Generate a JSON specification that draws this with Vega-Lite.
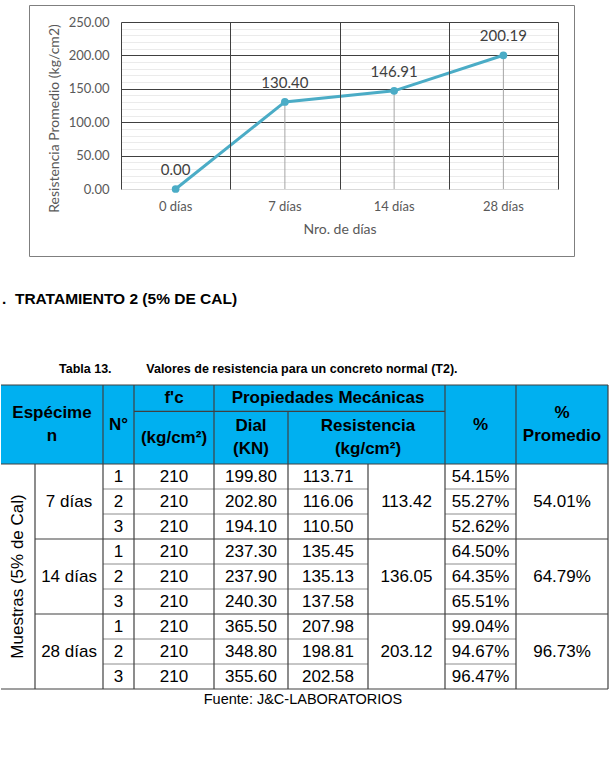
{
  "$schema": "https://vega.github.io/schema/vega-lite/v6.json",
  "background": "white",
  "padding": {"left": 0, "top": 4, "right": 0, "bottom": 0},
  "spacing": 15,
  "config": {"view": {"stroke": null}},
  "datasets": {
    "serie": [
      {"dia": "0 días", "res": 0.00},
      {"dia": "7 días", "res": 130.40},
      {"dia": "14 días", "res": 146.91},
      {"dia": "28 días", "res": 200.19}
    ],
    "fondo": [{"c0": 0, "c1": 9, "r0": 2, "r1": 5}],
    "cab": [
      {"t": "N°", "c0": 2.5, "r0": 3.5},
      {"t": "f'c", "c0": 3.5, "r0": 2.5},
      {"t": "(kg/cm²)", "c0": 3.5, "r0": 4},
      {"t": "Propiedades Mecánicas", "c0": 5.5, "r0": 2.5},
      {"t": "%", "c0": 7.5, "r0": 3.5}
    ],
    "cab2": [
      {"t": "Espécime\nn", "c0": 1.25, "r0": 3.5},
      {"t": "Dial\n(KN)", "c0": 4.5, "r0": 4},
      {"t": "Resistencia\n(kg/cm²)", "c0": 6, "r0": 4},
      {"t": "%\nPromedio", "c0": 8.5, "r0": 3.5}
    ],
    "cuerpo": [
      {"t": "7 días", "c0": 1.5, "r0": 6.5},
      {"t": "14 días", "c0": 1.5, "r0": 9.5},
      {"t": "28 días", "c0": 1.5, "r0": 12.5},
      {"t": "1", "c0": 2.5, "r0": 5.5},
      {"t": "2", "c0": 2.5, "r0": 6.5},
      {"t": "3", "c0": 2.5, "r0": 7.5},
      {"t": "1", "c0": 2.5, "r0": 8.5},
      {"t": "2", "c0": 2.5, "r0": 9.5},
      {"t": "3", "c0": 2.5, "r0": 10.5},
      {"t": "1", "c0": 2.5, "r0": 11.5},
      {"t": "2", "c0": 2.5, "r0": 12.5},
      {"t": "3", "c0": 2.5, "r0": 13.5},
      {"t": "210", "c0": 3.5, "r0": 5.5},
      {"t": "210", "c0": 3.5, "r0": 6.5},
      {"t": "210", "c0": 3.5, "r0": 7.5},
      {"t": "210", "c0": 3.5, "r0": 8.5},
      {"t": "210", "c0": 3.5, "r0": 9.5},
      {"t": "210", "c0": 3.5, "r0": 10.5},
      {"t": "210", "c0": 3.5, "r0": 11.5},
      {"t": "210", "c0": 3.5, "r0": 12.5},
      {"t": "210", "c0": 3.5, "r0": 13.5},
      {"t": "199.80", "c0": 4.5, "r0": 5.5},
      {"t": "202.80", "c0": 4.5, "r0": 6.5},
      {"t": "194.10", "c0": 4.5, "r0": 7.5},
      {"t": "237.30", "c0": 4.5, "r0": 8.5},
      {"t": "237.90", "c0": 4.5, "r0": 9.5},
      {"t": "240.30", "c0": 4.5, "r0": 10.5},
      {"t": "365.50", "c0": 4.5, "r0": 11.5},
      {"t": "348.80", "c0": 4.5, "r0": 12.5},
      {"t": "355.60", "c0": 4.5, "r0": 13.5},
      {"t": "113.71", "c0": 5.5, "r0": 5.5},
      {"t": "116.06", "c0": 5.5, "r0": 6.5},
      {"t": "110.50", "c0": 5.5, "r0": 7.5},
      {"t": "135.45", "c0": 5.5, "r0": 8.5},
      {"t": "135.13", "c0": 5.5, "r0": 9.5},
      {"t": "137.58", "c0": 5.5, "r0": 10.5},
      {"t": "207.98", "c0": 5.5, "r0": 11.5},
      {"t": "198.81", "c0": 5.5, "r0": 12.5},
      {"t": "202.58", "c0": 5.5, "r0": 13.5},
      {"t": "113.42", "c0": 6.5, "r0": 6.5},
      {"t": "136.05", "c0": 6.5, "r0": 9.5},
      {"t": "203.12", "c0": 6.5, "r0": 12.5},
      {"t": "54.15%", "c0": 7.5, "r0": 5.5},
      {"t": "55.27%", "c0": 7.5, "r0": 6.5},
      {"t": "52.62%", "c0": 7.5, "r0": 7.5},
      {"t": "64.50%", "c0": 7.5, "r0": 8.5},
      {"t": "64.35%", "c0": 7.5, "r0": 9.5},
      {"t": "65.51%", "c0": 7.5, "r0": 10.5},
      {"t": "99.04%", "c0": 7.5, "r0": 11.5},
      {"t": "94.67%", "c0": 7.5, "r0": 12.5},
      {"t": "96.47%", "c0": 7.5, "r0": 13.5},
      {"t": "54.01%", "c0": 8.5, "r0": 6.5},
      {"t": "64.79%", "c0": 8.5, "r0": 9.5},
      {"t": "96.73%", "c0": 8.5, "r0": 12.5}
    ],
    "muestras": [{"t": "Muestras (5% de Cal)", "c0": 0.5, "r0": 9.5}],
    "lineasOscuras": [
      {"c0": 0, "c1": 9, "r0": 2, "r1": 2},
      {"c0": 3, "c1": 7, "r0": 3, "r1": 3},
      {"c0": 0, "c1": 9, "r0": 5, "r1": 5},
      {"c0": 2, "c1": 2, "r0": 2, "r1": 5},
      {"c0": 3, "c1": 3, "r0": 2, "r1": 5},
      {"c0": 4, "c1": 4, "r0": 2, "r1": 5},
      {"c0": 5, "c1": 5, "r0": 3, "r1": 5},
      {"c0": 7, "c1": 7, "r0": 2, "r1": 5},
      {"c0": 8, "c1": 8, "r0": 2, "r1": 5},
      {"c0": 9, "c1": 9, "r0": 2, "r1": 5},
      {"c0": 1, "c1": 1, "r0": 5, "r1": 14},
      {"c0": 2, "c1": 2, "r0": 5, "r1": 14},
      {"c0": 3, "c1": 3, "r0": 5, "r1": 14},
      {"c0": 4, "c1": 4, "r0": 5, "r1": 14},
      {"c0": 5, "c1": 5, "r0": 5, "r1": 14},
      {"c0": 6, "c1": 6, "r0": 5, "r1": 14},
      {"c0": 7, "c1": 7, "r0": 5, "r1": 14},
      {"c0": 8, "c1": 8, "r0": 5, "r1": 14},
      {"c0": 9, "c1": 9, "r0": 5, "r1": 14},
      {"c0": 1, "c1": 9, "r0": 8, "r1": 8},
      {"c0": 1, "c1": 9, "r0": 11, "r1": 11},
      {"c0": 0, "c1": 9, "r0": 14, "r1": 14}
    ],
    "lineasClaras": [
      {"c0": 2, "c1": 6, "r0": 6, "r1": 6},
      {"c0": 2, "c1": 6, "r0": 7, "r1": 7},
      {"c0": 2, "c1": 6, "r0": 9, "r1": 9},
      {"c0": 2, "c1": 6, "r0": 10, "r1": 10},
      {"c0": 2, "c1": 6, "r0": 12, "r1": 12},
      {"c0": 2, "c1": 6, "r0": 13, "r1": 13},
      {"c0": 7, "c1": 8, "r0": 6, "r1": 6},
      {"c0": 7, "c1": 8, "r0": 7, "r1": 7},
      {"c0": 7, "c1": 8, "r0": 9, "r1": 9},
      {"c0": 7, "c1": 8, "r0": 10, "r1": 10},
      {"c0": 7, "c1": 8, "r0": 12, "r1": 12},
      {"c0": 7, "c1": 8, "r0": 13, "r1": 13}
    ],
    "titulo": [{"t": ".\u00a0\u00a0TRATAMIENTO 2 (5% DE CAL)", "c0": 0, "r0": 0}],
    "leyenda": [{"t": "Tabla 13.\u00a0\u00a0\u00a0\u00a0\u00a0\u00a0\u00a0\u00a0\u00a0\u00a0Valores de resistencia para un concreto normal (T2).", "c0": 0, "r0": 1}],
    "fuente": [{"t": "Fuente: J&C-LABORATORIOS", "c0": 0, "r0": 15}]
  },
  "vconcat": [
    {
      "width": 545,
      "height": 251,
      "view": {"stroke": "#7f7f7f", "strokeWidth": 1},
      "data": {"name": "serie"},
      "resolve": {"axis": {"x": "independent"}},
      "encoding": {
        "y": {
          "field": "res", "type": "quantitative",
          "scale": {"domain": [0, 250], "range": [184, 17], "nice": false},
          "axis": {
            "offset": -92,
            "values": [0, 10, 20, 30, 40, 50, 60, 70, 80, 90, 100, 110, 120, 130, 140, 150, 160, 170, 180, 190, 200, 210, 220, 230, 240, 250],
            "labelExpr": "datum.value % 50 === 0 ? format(datum.value, '.2f') : ''",
            "grid": true,
            "gridColor": {"condition": {"test": "datum.value % 50 === 0 && datum.value > 0", "value": "#404040"}, "value": "#ebebeb"},
            "ticks": false, "tickSize": 0, "domain": false,
            "labelPadding": 12, "labelFont": "Lato", "labelFontSize": 13, "labelColor": "#595959",
            "title": "Resistencia Promedio (kg/cm2)", "titleFont": "Lato", "titleFontSize": 14,
            "titleFontWeight": "normal", "titleColor": "#595959", "titlePadding": 7, "titleY": 113
          }
        }
      },
      "layer": [
        {
          "mark": {"type": "rule", "color": "#a6a6a6", "strokeWidth": 1},
          "encoding": {
            "x": {
              "field": "dia", "type": "nominal", "sort": null,
              "scale": {"range": [92, 529], "paddingInner": 0, "paddingOuter": 0},
              "axis": {
                "orient": "top", "offset": -17, "title": null, "labels": false,
                "grid": true, "tickBand": "extent", "gridColor": "#404040", "gridWidth": 1,
                "ticks": false, "domain": false, "zindex": 1
              }
            },
            "y2": {"datum": 0}
          }
        },
        {
          "mark": {"type": "line", "color": "#4BACC6", "strokeWidth": 3},
          "encoding": {
            "x": {
              "field": "dia", "type": "nominal", "sort": null,
              "scale": {"range": [92, 529], "paddingInner": 0, "paddingOuter": 0},
              "axis": {
                "orient": "bottom", "offset": -67, "title": "Nro. de días", "labelAngle": 0,
                "grid": false, "ticks": false, "domain": true, "domainColor": "#d9d9d9", "domainWidth": 1,
                "labelFont": "Lato", "labelFontSize": 13, "labelColor": "#595959", "labelPadding": 11,
                "titleFont": "Lato", "titleFontSize": 14, "titleFontWeight": "normal", "titleColor": "#595959", "titlePadding": 9
              }
            }
          }
        },
        {
          "mark": {"type": "point", "filled": true, "size": 60, "color": "#4BACC6", "opacity": 1},
          "encoding": {
            "x": {"field": "dia", "type": "nominal", "sort": null, "axis": null,
                  "scale": {"range": [92, 529], "paddingInner": 0, "paddingOuter": 0}}
          }
        },
        {
          "mark": {"type": "text", "dy": -19, "font": "Lato", "fontSize": 15, "color": "#404040"},
          "encoding": {
            "x": {"field": "dia", "type": "nominal", "sort": null, "axis": null,
                  "scale": {"range": [92, 529], "paddingInner": 0, "paddingOuter": 0}},
            "text": {"field": "res", "type": "quantitative", "format": ".2f"}
          }
        }
      ]
    },
    {
      "width": 579,
      "height": 440,
      "encoding": {
        "x": {"field": "c0", "type": "quantitative", "axis": null,
              "scale": {"domain": [0, 1, 2, 3, 4, 5, 6, 7, 8, 9], "range": [-28, 6, 74, 105, 185, 259, 339, 416, 487, 579], "zero": false, "nice": false}},
        "y": {"field": "r0", "type": "quantitative", "axis": null,
              "scale": {"domain": [0, 1, 2, 3, 4, 5, 6, 7, 8, 9, 10, 11, 12, 13, 14, 15], "range": [27, 97, 113, 139.3, 165.7, 192, 217, 242, 267, 292, 317, 342, 367, 392, 417, 428], "zero": false, "nice": false}}
      },
      "layer": [
        {"data": {"name": "fondo"}, "mark": {"type": "rect", "color": "#00B0F0"},
         "encoding": {"x2": {"field": "c1"}, "y2": {"field": "r1"}}},
        {"data": {"name": "lineasClaras"}, "mark": {"type": "rule", "color": "#8c8c8c", "strokeWidth": 1},
         "encoding": {"x2": {"field": "c1"}, "y2": {"field": "r1"}}},
        {"data": {"name": "lineasOscuras"}, "mark": {"type": "rule", "color": "#404040", "strokeWidth": 1.2},
         "encoding": {"x2": {"field": "c1"}, "y2": {"field": "r1"}}},
        {"data": {"name": "cab"}, "mark": {"type": "text", "font": "Liberation Sans", "fontSize": 17, "fontWeight": "bold", "color": "#000000", "align": "center", "baseline": "middle"},
         "encoding": {"text": {"field": "t"}}},
        {"data": {"name": "cab2"}, "mark": {"type": "text", "font": "Liberation Sans", "fontSize": 17, "fontWeight": "bold", "color": "#000000", "lineBreak": "\n", "lineHeight": 23, "align": "center", "baseline": "middle", "dy": -11.5},
         "encoding": {"text": {"field": "t"}}},
        {"data": {"name": "cuerpo"}, "mark": {"type": "text", "font": "Liberation Sans", "fontSize": 17, "color": "#000000", "align": "center", "baseline": "middle"},
         "encoding": {"text": {"field": "t"}}},
        {"data": {"name": "muestras"}, "mark": {"type": "text", "font": "Liberation Sans", "fontSize": 17, "color": "#000000", "align": "center", "baseline": "middle", "angle": 270},
         "encoding": {"text": {"field": "t"}}},
        {"data": {"name": "titulo"}, "mark": {"type": "text", "font": "Liberation Sans", "fontSize": 15.5, "fontWeight": "bold", "color": "#000000", "align": "left", "baseline": "middle", "dx": 1},
         "encoding": {"text": {"field": "t"}}},
        {"data": {"name": "leyenda"}, "mark": {"type": "text", "font": "Liberation Sans", "fontSize": 12.5, "fontWeight": "bold", "color": "#000000", "align": "left", "baseline": "middle", "dx": 58},
         "encoding": {"text": {"field": "t"}}},
        {"data": {"name": "fuente"}, "mark": {"type": "text", "font": "Liberation Sans", "fontSize": 14.5, "color": "#000000", "align": "center", "baseline": "middle", "dx": 302},
         "encoding": {"text": {"field": "t"}}}
      ]
    }
  ]
}
